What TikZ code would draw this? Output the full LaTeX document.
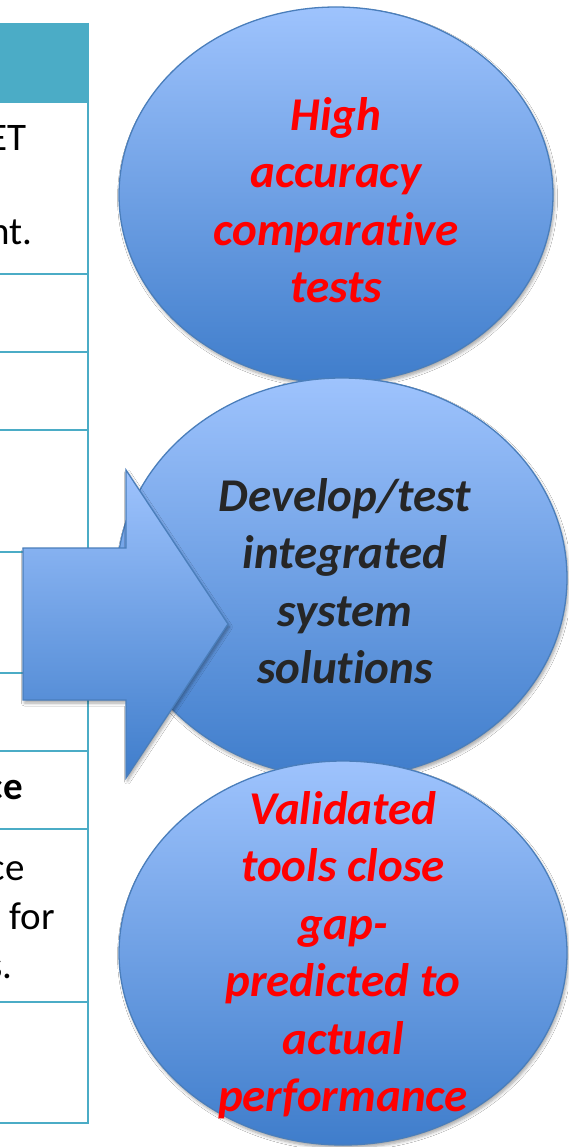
\documentclass[tikz,border=0pt]{standalone}
\usepackage{fontspec}
\setmainfont{Carlito}[Ligatures=NoCommon]
\usetikzlibrary{shapes.geometric,shadows.blur}
\definecolor{tealhead}{HTML}{4BACC6}
\definecolor{blobtop}{HTML}{9EC3FD}
\definecolor{blobbot}{HTML}{3F7DCB}
\definecolor{blobedge}{HTML}{4A7EBB}
\definecolor{darktext}{HTML}{262626}
\begin{document}
\begin{tikzpicture}[x=1pt,y=-1pt,
  rule/.style={tealhead, line width=2pt},
  cell/.style={anchor=base east, inner sep=0pt, font=\fontsize{39}{47}\selectfont},
  softshadow/.style={blur shadow={shadow xshift=1.5pt, shadow yshift=-3pt,
      shadow blur steps=6, shadow blur radius=3pt, shadow opacity=35}},
  blob/.style={ellipse, draw=blobedge, line width=1.3pt, top color=blobtop,
      bottom color=blobbot, inner sep=0pt, softshadow},
  blobtext/.style={align=center, inner sep=0pt,
      font=\fontsize{47}{57.5}\selectfont\bfseries\itshape},
]
\useasboundingbox[fill=white] (0,0) rectangle (568,1147);

% table strip on the left
\fill[tealhead] (0,23) rectangle (89,103);
\foreach \yy in {274,352,430,552,673,751,829,1002,1123}
  \draw[rule] (0,\yy) -- (88,\yy);
\draw[rule] (88,23) -- (88,1124);

\node[cell] (c1) at (27,151) {ET};
\node[cell] (c2) at (33,245) {nt.};
\node[cell, font=\fontsize{39}{47}\selectfont\bfseries] (c3) at (23,799) {ce};
\node[cell] (c4) at (25,880) {ce};
\node[cell] (c5) at (55,929) {for};
\node[cell] (c6) at (13,978) {s.};

% stacked ellipses
\node[blob, minimum width=434, minimum height=376] (e1) at (336,195) {};
\node[blob, minimum width=450, minimum height=400] (e2) at (342,578) {};

% block arrow pointing into the middle ellipse
\draw[blobedge, line width=1.3pt, top color=blobtop, bottom color=blobbot, softshadow]
  (23,548) -- (126,548) -- (126,470) -- (228,624) -- (126,778) -- (126,700)
  -- (23,700) -- cycle;

\node[blob, minimum width=448, minimum height=384] (e3) at (343,953) {};

% ellipse labels
\node[blobtext, text=red] (t1) at (336,200)
  {High\\accuracy\\comparative\\tests};
\node[blobtext, text=darktext] (t2) at (345,581)
  {Develop/test\\integrated\\system\\solutions};
\node[blobtext, text=red] (t3) at (343,955)
  {Validated\\tools close\\gap-\\predicted to\\actual\\performance};
\end{tikzpicture}
\end{document}
